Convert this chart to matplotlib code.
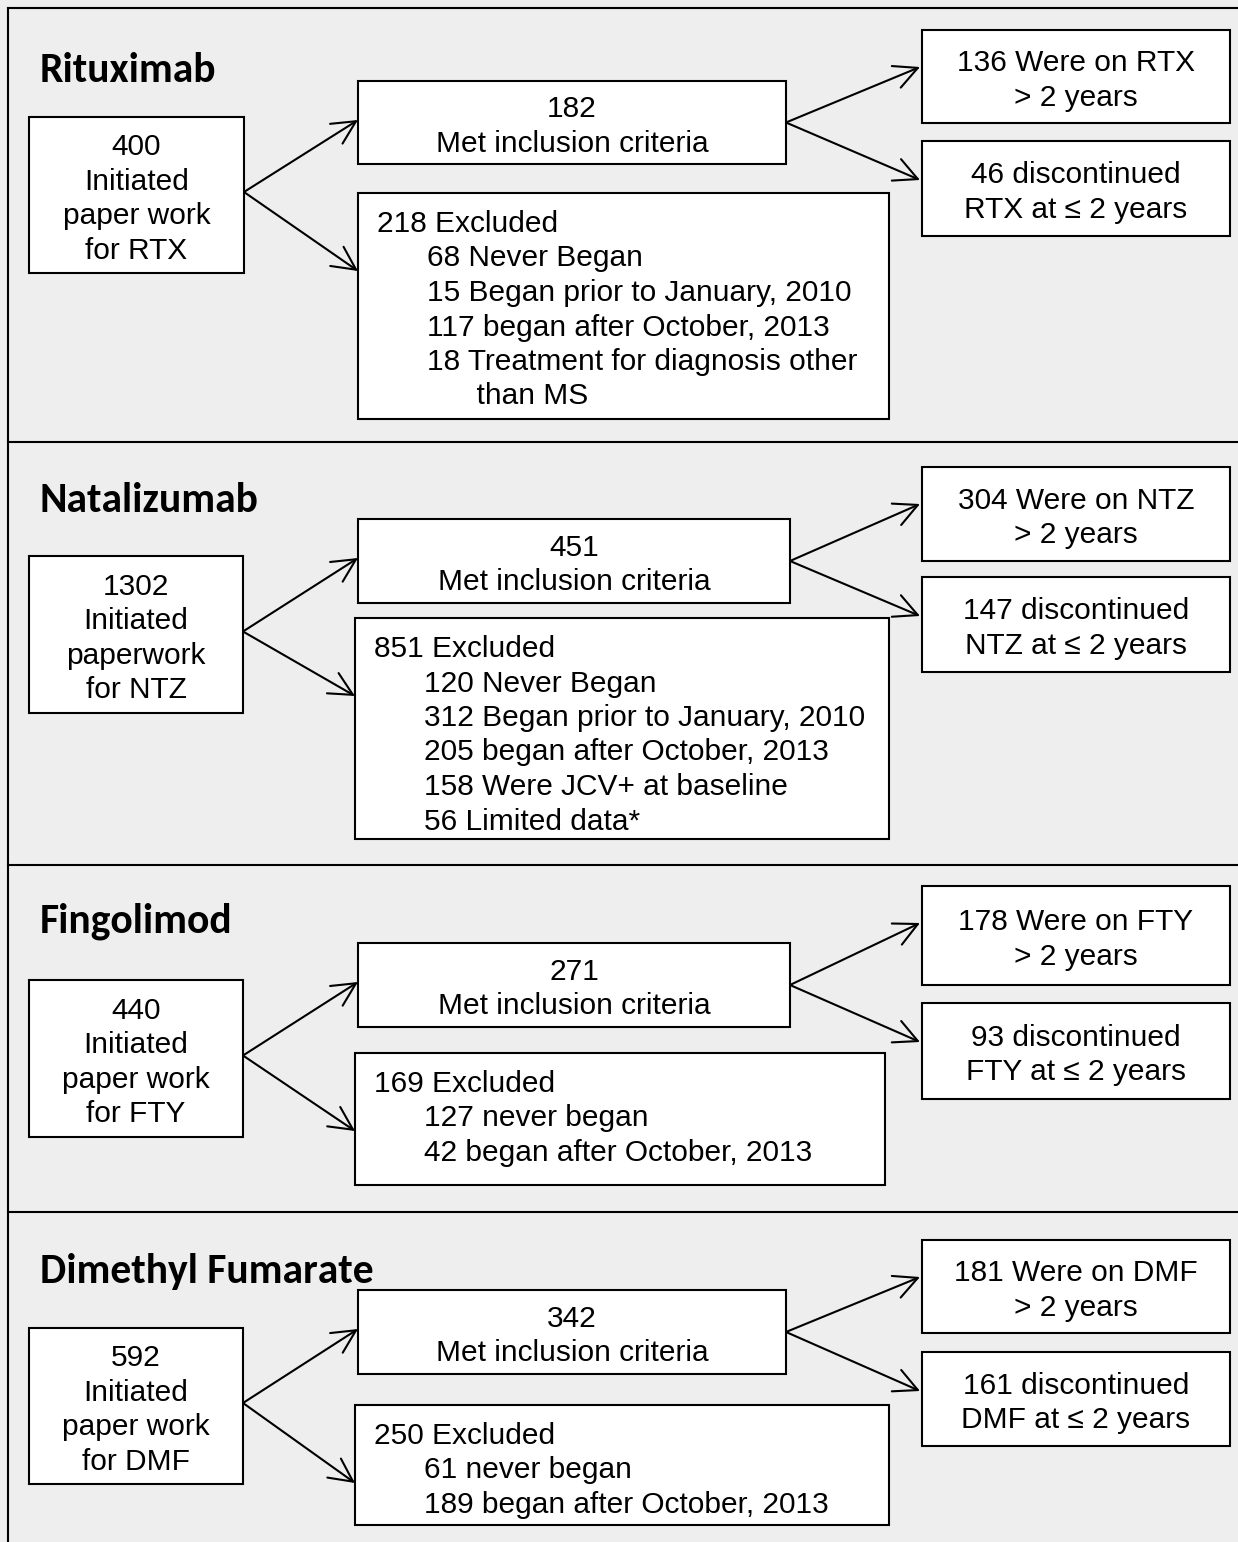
import matplotlib
matplotlib.use('Agg')
import matplotlib.pyplot as plt
from matplotlib.patches import Rectangle, FancyArrowPatch

plt.rcParams['font.family'] = ['Liberation Sans', 'DejaVu Sans']

# Flowchart content
drugs = ['Rituximab', 'Natalizumab', 'Fingolimod', 'Dimethyl Fumarate']
abbrevs = ['RTX', 'NTZ', 'FTY', 'DMF']
initiated = [400, 1302, 440, 592]
paper_word = ['paper work', 'paperwork', 'paper work', 'paper work']
met_criteria = [182, 451, 271, 342]
excluded = [218, 851, 169, 250]
reasons = [
    ['68 Never Began', '15 Began prior to January, 2010', '117 began after October, 2013',
     '18 Treatment for diagnosis other', '      than MS'],
    ['120 Never Began', '312 Began prior to January, 2010', '205 began after October, 2013',
     '158 Were JCV+ at baseline', '56 Limited data*'],
    ['127 never began', '42 began after October, 2013'],
    ['61 never began', '189 began after October, 2013'],
]
over_two = [136, 304, 178, 181]
discontinued = [46, 147, 93, 161]

# Layout (pixel coordinates, y downward)
W, H = 1238, 1542
panel_tops = [8, 442, 865, 1212]
title_y = [67, 496, 917, 1268]
left_box = [(29, 117, 244, 273), (29, 556, 243, 713), (29, 980, 243, 1137), (29, 1328, 243, 1484)]
met_box = [(358, 81, 786, 164), (358, 519, 790, 603), (358, 943, 790, 1027), (358, 1290, 786, 1374)]
exc_box = [(358, 193, 889, 419), (355, 618, 889, 839), (355, 1053, 885, 1185), (355, 1405, 889, 1525)]
top_right = [(922, 30, 1230, 123), (922, 467, 1230, 561), (922, 886, 1230, 985), (922, 1240, 1230, 1333)]
bot_right = [(922, 141, 1230, 236), (922, 577, 1230, 672), (922, 1003, 1230, 1099), (922, 1352, 1230, 1446)]

FS = 21.5
LINE = 34.5
DY = 4  # nudge text down to sit like the original
LW = 1.5

fig = plt.figure(figsize=(W / 100, H / 100), dpi=100)
fig.patch.set_facecolor('#eeeeee')
ax = fig.add_axes([0, 0, 1, 1])
ax.set_xlim(0, W)
ax.set_ylim(H, 0)
ax.axis('off')

# panel frame
ax.plot([8, 8], [8, H], color='black', lw=LW)
for y in panel_tops:
    ax.plot([8, W], [y, y], color='black', lw=LW)


def box(b):
    x0, y0, x1, y1 = b
    ax.add_patch(Rectangle((x0, y0), x1 - x0, y1 - y0, facecolor='white',
                           edgecolor='black', lw=LW, zorder=2))


def centered(b, lines):
    x0, y0, x1, y1 = b
    cx, cy = (x0 + x1) / 2, (y0 + y1) / 2
    start = cy - LINE * (len(lines) - 1) / 2 + DY
    for i, s in enumerate(lines):
        ax.text(cx, start + i * LINE, s, ha='center', va='center', fontsize=FS, zorder=3)


def arrow(p, q):
    ax.add_patch(FancyArrowPatch(p, q, arrowstyle='->,head_length=0.7,head_width=0.35',
                                 mutation_scale=24, lw=LW, color='black',
                                 shrinkA=0, shrinkB=0, zorder=4))


for k in range(4):
    ax.text(40, title_y[k] + 4, drugs[k], fontsize=30, fontweight='bold', family='Carlito',
            ha='left', va='center')
    for b in (left_box[k], met_box[k], exc_box[k], top_right[k], bot_right[k]):
        box(b)
    centered(left_box[k], [str(initiated[k]), 'Initiated', paper_word[k], 'for ' + abbrevs[k]])
    centered(met_box[k], [str(met_criteria[k]), 'Met inclusion criteria'])
    centered(top_right[k], ['%d Were on %s' % (over_two[k], abbrevs[k]), '> 2 years'])
    centered(bot_right[k], ['%d discontinued' % discontinued[k], '%s at \u2264 2 years' % abbrevs[k]])

    x0, y0, x1, y1 = exc_box[k]
    ax.text(x0 + 19, y0 + 27 + DY, '%d Excluded' % excluded[k], fontsize=FS,
            ha='left', va='center', zorder=3)
    for i, r in enumerate(reasons[k]):
        ax.text(x0 + 69, y0 + 27 + DY + (i + 1) * LINE, r, fontsize=FS,
                ha='left', va='center', zorder=3)

    # arrows
    lx = left_box[k][2]
    ly = (left_box[k][1] + left_box[k][3]) / 2 - 3
    arrow((lx, ly), (met_box[k][0], met_box[k][1] + 39))
    arrow((lx, ly), (exc_box[k][0], exc_box[k][1] + 78))
    mx = met_box[k][2]
    my = (met_box[k][1] + met_box[k][3]) / 2
    arrow((mx, my), (top_right[k][0] - 2, top_right[k][1] + 37))
    arrow((mx, my), (bot_right[k][0] - 2, bot_right[k][1] + 39))

fig.savefig('out.png', dpi=100, facecolor=fig.get_facecolor())
